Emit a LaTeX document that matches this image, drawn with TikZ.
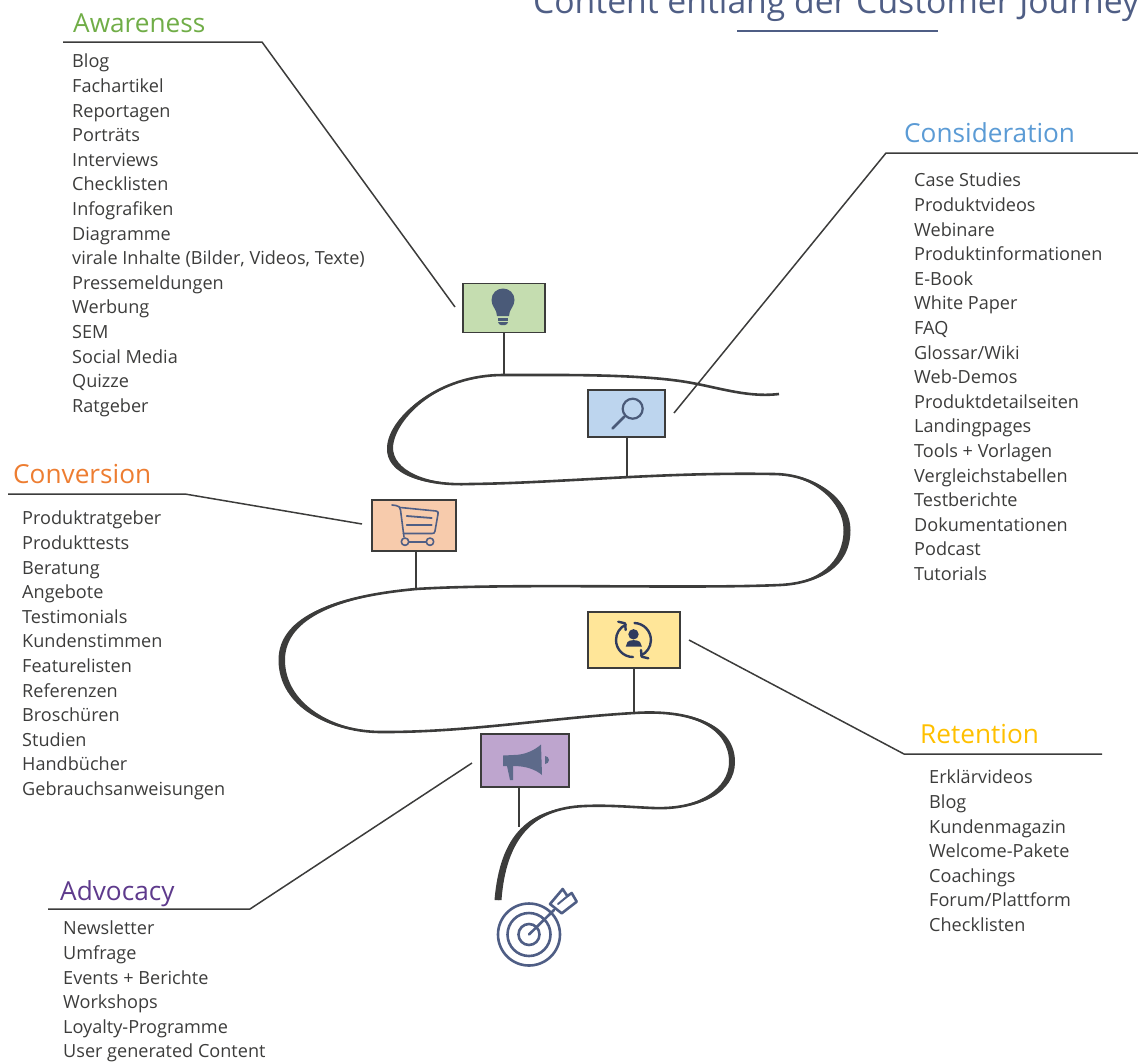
\documentclass[tikz,border=0pt]{standalone}
\usepackage{fontspec}
\setmainfont{Open Sans}
\usetikzlibrary{positioning}
\definecolor{ink}{HTML}{3C3C3B}
\definecolor{slate}{HTML}{4F5E85}
\definecolor{iconblue}{HTML}{4A5A78}
\definecolor{icondark}{HTML}{2F3B5E}
\definecolor{megaphone}{HTML}{5D6A8A}
\definecolor{awarenessfill}{HTML}{C5DDB0}
\definecolor{considerationfill}{HTML}{BDD5EE}
\definecolor{conversionfill}{HTML}{F7CBAC}
\definecolor{retentionfill}{HTML}{FFE699}
\definecolor{advocacyfill}{HTML}{BEA5CE}
\definecolor{awarenesstext}{HTML}{70AD47}
\definecolor{considerationtext}{HTML}{5B9BD5}
\definecolor{conversiontext}{HTML}{ED7D31}
\definecolor{retentiontext}{HTML}{FFC000}
\definecolor{advocacytext}{HTML}{5E3A8C}
\tikzset{
  % phase box on the road
  phase/.style = {
    draw = ink,
    line width = 1.4pt,
    rectangle,
    inner sep = 0
  },
  % heading of a phase
  heading/.style = {
    anchor = base west,
    inner sep = 0,
    font = \fontsize{26.2}{30}\selectfont
  },
  % list of content types
  items/.style = {
    anchor = north west,
    align = left,
    inner sep = 0,
    text = ink,
    font = \fontsize{18.1}{24.6}\selectfont
  },
  % leader and stem lines
  lead/.style = {
    draw = ink,
    line width = 1.5pt
  },
  stem/.style = {
    draw = ink,
    line width = 1.5pt
  },
  % the road itself
  road/.style = {
    draw = ink,
    line width = 2.6pt
  },
  % icon line work
  icon/.style = {
    draw = iconblue,
    line width = 1.6pt,
    line cap = round,
    line join = round
  }
}
\begin{document}
\begin{tikzpicture}[x=1pt,y=-1pt]
    \useasboundingbox (0,0) rectangle (1138,1061);

    % title
    \node[anchor=base,inner sep=0,text=slate,font=\fontsize{33.7}{36}\selectfont] (title) at (836,13) {Content entlang der Customer Journey};
    \coordinate (title-left) at (737,31);
    \coordinate (title-right) at (938,31);
    \draw[slate,line width=1.6pt] (title-left) -- (title-right);

    % phase boxes
    \node[phase,minimum width=82pt,minimum height=49pt,fill=awarenessfill] (awareness) at (504,308) {};
    \node[phase,minimum width=77pt,minimum height=47pt,fill=considerationfill] (consideration) at (626.5,413.5) {};
    \node[phase,minimum width=84pt,minimum height=51pt,fill=conversionfill] (conversion) at (414,525.5) {};
    \node[phase,minimum width=92pt,minimum height=56pt,fill=retentionfill] (retention) at (634,640) {};
    \node[phase,minimum width=88pt,minimum height=53pt,fill=advocacyfill] (advocacy) at (525,760.5) {};

    % points where the stems meet the road
    \coordinate (awareness-road) at (504,375);
    \coordinate (consideration-road) at (627,476);
    \coordinate (conversion-road) at (416,589);
    \coordinate (retention-road) at (634,713);
    \coordinate (advocacy-road) at (519,827);

    % road
    \draw[road] (779,394) .. controls (745,398) and (715,386) .. (680,381)
      .. controls (630,374) and (560,375) .. (503,375)
      .. controls (440,375) and (392,415) .. (390,447)
      .. controls (388,473) and (425,486) .. (470,484)
      .. controls (560,483) and (660,472) .. (773,474)
      .. controls (815,474) and (847,500) .. (847,530)
      .. controls (847,565) and (820,583) .. (780,585)
      .. controls (690,589) and (510,583) .. (416,589)
      .. controls (340,596) and (282,615) .. (282,660)
      .. controls (282,705) and (330,733) .. (385,732)
      .. controls (470,732) and (550,718) .. (634,713)
      .. controls (695,709) and (732,728) .. (732,762)
      .. controls (732,790) and (700,810) .. (653,808)
      .. controls (630,807) and (610,805) .. (585,806)
      .. controls (530,808) and (503,840) .. (498,900);

    % thick parts of the road
    \fill[ink] (503,375) .. controls (440,375) and (389,415) .. (387,447)
      .. controls (385,475) and (425,487) .. (470,484)
      .. controls (425,484.5) and (392.5,470) .. (393,447)
      .. controls (395,418) and (440,375) .. (503,375);
    \fill[ink] (773,474) .. controls (817,473) and (850.5,500) .. (850.5,530)
      .. controls (850.5,567) and (820,584) .. (780,585)
      .. controls (818,582) and (843.5,563) .. (843.5,530)
      .. controls (843.5,502) and (813,475) .. (773,474);
    \fill[ink] (416,589) .. controls (338,595) and (278.5,615) .. (278.5,660)
      .. controls (278.5,707) and (330,734) .. (385,732)
      .. controls (332,731.5) and (285,703) .. (285,660)
      .. controls (285,617) and (342,597) .. (416,589);
    \fill[ink] (634,713) .. controls (696,708) and (735,727) .. (735,762)
      .. controls (735,792) and (701,811) .. (653,808)
      .. controls (699,809) and (729,788) .. (729,762)
      .. controls (729,729) and (694,710) .. (634,713);
    \fill[ink] (585,806) .. controls (528,807) and (500,835) .. (494.5,900)
      -- (501.5,900) .. controls (506,840) and (532,809) .. (585,806);

    % stems
    \draw[stem] (awareness.south -| awareness-road) -- (awareness-road);
    \draw[stem] (consideration.south -| consideration-road) -- (consideration-road);
    \draw[stem] (conversion.south -| conversion-road) -- (conversion-road);
    \draw[stem] (retention.south -| retention-road) -- (retention-road);
    \draw[stem] (advocacy.south -| advocacy-road) -- (advocacy-road);

    % leaders
    \coordinate (awareness-start) at (63,42);
    \coordinate (awareness-knee) at (262,42);
    \coordinate (awareness-end) at (455,307);
    \draw[lead] (awareness-start) -- (awareness-knee) -- (awareness-end);

    \coordinate (consideration-start) at (1138,153);
    \coordinate (consideration-knee) at (886,153);
    \coordinate (consideration-end) at (674,413);
    \draw[lead] (consideration-start) -- (consideration-knee) -- (consideration-end);

    \coordinate (conversion-start) at (8,494);
    \coordinate (conversion-knee) at (185,494);
    \coordinate (conversion-end) at (362,524);
    \draw[lead] (conversion-start) -- (conversion-knee) -- (conversion-end);

    \coordinate (retention-start) at (1102,754);
    \coordinate (retention-knee) at (904,754);
    \coordinate (retention-end) at (689,640);
    \draw[lead] (retention-start) -- (retention-knee) -- (retention-end);

    \coordinate (advocacy-start) at (48,909);
    \coordinate (advocacy-knee) at (250,909);
    \coordinate (advocacy-end) at (472,763);
    \draw[lead] (advocacy-start) -- (advocacy-knee) -- (advocacy-end);

    % headings
    \node[heading,text=awarenesstext] (awareness title) at (73,32) {Awareness};
    \node[heading,text=considerationtext] (consideration title) at (904,142) {Consideration};
    \node[heading,text=conversiontext] (conversion title) at (13,483) {Conversion};
    \node[heading,text=retentiontext] (retention title) at (920,743) {Retention};
    \node[heading,text=advocacytext] (advocacy title) at (60,900) {Advocacy};

    % lists
    \node[items] (awareness list) at (72,54) {Blog\\Fachartikel\\Reportagen\\Porträts\\Interviews\\Checklisten\\Infografiken\\Diagramme\\virale Inhalte (Bilder, Videos, Texte)\\Pressemeldungen\\Werbung\\SEM\\Social Media\\Quizze\\Ratgeber};
    \node[items] (consideration list) at (914,173) {Case Studies\\Produktvideos\\Webinare\\Produktinformationen\\E-Book\\White Paper\\FAQ\\Glossar/Wiki\\Web-Demos\\Produktdetailseiten\\Landingpages\\Tools + Vorlagen\\Vergleichstabellen\\Testberichte\\Dokumentationen\\Podcast\\Tutorials};
    \node[items] (conversion list) at (22,511) {Produktratgeber\\Produkttests\\Beratung\\Angebote\\Testimonials\\Kundenstimmen\\Featurelisten\\Referenzen\\Broschüren\\Studien\\Handbücher\\Gebrauchsanweisungen};
    \node[items] (retention list) at (929,770) {Erklärvideos\\Blog\\Kundenmagazin\\Welcome-Pakete\\Coachings\\Forum/Plattform\\Checklisten};
    \node[items] (advocacy list) at (63,921) {Newsletter\\Umfrage\\Events + Berichte\\Workshops\\Loyalty-Programme\\User generated Content};

    % bulb
    \fill[iconblue] (497,316) .. controls (497,309) and (491.5,307) .. (491.5,300)
      .. controls (491.5,293) and (497,288.5) .. (503,288.5)
      .. controls (509,288.5) and (514.5,293) .. (514.5,300)
      .. controls (514.5,307) and (509,309) .. (509,316) -- cycle;
    \fill[iconblue] (498,317.5) rectangle (508,321);
    \fill[iconblue] (498,322) -- (508,322) -- (507,324) -- (505,325) -- (501,325) -- (499,324) -- cycle;

    % magnifier
    \draw[icon,line width=2.2pt] (632.7,408.7) circle (10);
    \draw[icon,line width=2.8pt] (624.3,416.7) -- (612.5,428.5);

    % cart
    \draw[icon,draw=slate] (392,505) -- (396,505.5) .. controls (399,506) and (400,507) .. (400.5,510) -- (404,537);
    \draw[icon,draw=slate] (400.5,507.5) -- (436,511) .. controls (438,511.5) and (438.5,512) .. (438,514) -- (435,531) .. controls (434.5,533) and (434,533.5) .. (432,533.5) -- (403.5,533.5);
    \draw[icon,draw=slate,line width=1.8pt] (406.7,516) -- (431.7,518);
    \draw[icon,draw=slate,line width=1.8pt] (406.7,525) -- (431.7,525);
    \draw[icon,draw=slate] (405,541.7) circle (3.7);
    \draw[icon,draw=slate] (430,541.7) circle (3.7);
    \draw[icon,draw=slate] (408.7,541.7) -- (426.3,541.7);

    % person in a circle of arrows
    \draw[icon,draw=icondark,line width=2.4pt] (634.5,623) arc (-88:65:17);
    \draw[icon,draw=icondark,line width=2.4pt] (633,657) arc (90:245:17);
    \draw[icon,draw=icondark,line width=2.4pt] (641,650) -- (641.7,656.7) -- (648.3,658.3);
    \draw[icon,draw=icondark,line width=2.4pt] (625.7,630) -- (625,623.3) -- (618.3,621.7);
    \fill[icondark] (633.5,634.3) circle (5.2);
    \fill[icondark] (625.7,646.7) -- (627.5,642) .. controls (629,639.5) and (638,639.5) .. (640,642) -- (642,646.7) -- cycle;

    % megaphone
    \fill[megaphone] (503,755.5) -- (513.5,755) .. controls (525,755) and (535,750) .. (541,744.5) -- (542,775) .. controls (535,769) and (525,766) .. (513.5,766) -- (503,766) -- cycle;
    \fill[megaphone] (507,766) -- (510,780) -- (513,780) -- (513,766) -- cycle;
    \fill[megaphone] (545,756) arc (-90:90:4) -- cycle;

    % target
    \draw[icon,draw=slate,line width=2.6pt] (529,934.5) circle (31);
    \draw[icon,draw=slate,line width=2.6pt] (529,934.5) circle (21.5);
    \draw[icon,draw=slate,line width=2.6pt] (529,934.5) circle (10.5);
    \draw[icon,draw=slate,line width=2.6pt] (529,934.5) -- (554,910);
    \draw[icon,draw=slate,line width=2.6pt] (550,904) -- (562.7,889) -- (567.3,896) -- (571.7,893) -- (576.7,901.7) -- (561.7,913.3) -- cycle;
    \draw[icon,draw=slate,line width=2pt] (558,904) -- (569,895);
\end{tikzpicture}
\end{document}
